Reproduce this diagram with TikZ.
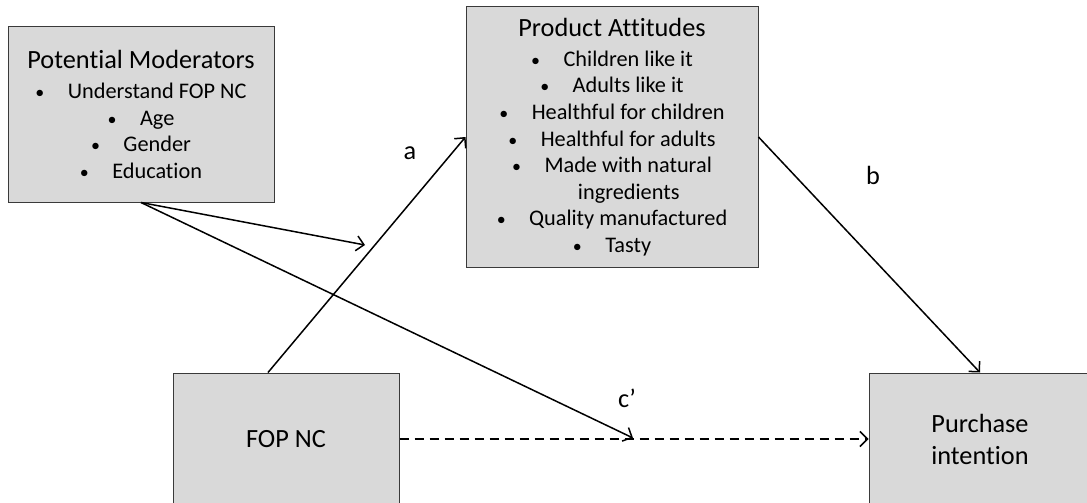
\documentclass[tikz,border=0pt]{standalone}
\usepackage{fontspec}
\setmainfont{Carlito}[Ligatures=NoCommon]
\usetikzlibrary{calc,positioning,arrows.meta}
\definecolor{BoxGray}{HTML}{D9D9D9}
\definecolor{EdgeGray}{HTML}{3A3A3A}
\newcommand{\bitem}[1]{{\fontsize{18}{18}\selectfont\textbullet}\hspace{1.05em}#1}
\newcommand{\btitle}[1]{{\fontsize{26.3}{30}\selectfont #1}}

\begin{document}
\begin{tikzpicture}[
    x=1pt, y=1pt,
    varbox/.style={
      draw=EdgeGray,
      line width=1pt,
      fill=BoxGray,
      align=center,
      inner sep=0pt,
      font=\fontsize{22.3}{26.6}\selectfont
    },
    bigbox/.style={
      varbox,
      minimum width=224pt,
      minimum height=132pt,
      font=\fontsize{26.3}{32}\selectfont
    },
    path/.style={
      line width=1.5pt,
      -{Straight Barb[length=7.5pt,width=15pt]}
    },
    lbl/.style={font=\fontsize{26.3}{30}\selectfont}
  ]
  \clip (0,0) rectangle (1087,-503);
  \fill[white] (0,0) rectangle (1087,-503);

  % boxes
  \node[varbox, minimum width=266pt, minimum height=175pt] (mod) at (141,-114.5) {
    \btitle{Potential Moderators}\\[3.5pt]
    \bitem{Understand FOP NC}\\
    \bitem{Age}\\
    \bitem{Gender}\\
    \bitem{Education}
  };
  \node[varbox, minimum width=292pt, minimum height=260pt] (att) at (612,-137) {
    \btitle{Product Attitudes}\\[3.5pt]
    \bitem{Children like it}\\
    \bitem{Adults like it}\\
    \bitem{Healthful for children}\\
    \bitem{Healthful for adults}\\
    \bitem{Made with natural}\\
    \hspace{1.5em}ingredients\\
    \bitem{Quality manufactured}\\
    \bitem{Tasty}
  };
  \node[bigbox, minimum width=226pt] (fop) at (286,-439) {FOP NC};
  \node[bigbox, minimum width=222pt] (pur) at (980,-439) {Purchase\\intention};

  % moderation targets
  \coordinate (modtip) at (365,-245);
  \coordinate (cptip) at (633,-438);

  % paths
  \draw[path] ($(fop.north)+(-18,0)$) -- (att.west);
  \draw[path] (att.east) -- (pur.north);
  \draw[path, dashed, dash pattern=on 9pt off 6pt] (fop.east) -- (pur.west);
  \draw[path] (mod.south) -- (modtip);
  \draw[path] (mod.south) -- (cptip);

  % labels
  \node[lbl] (la) at (410,-153) {a};
  \node[lbl] (lb) at (873,-175) {b};
  \node[lbl] (lc) at (627,-398) {c’};
\end{tikzpicture}
\end{document}
